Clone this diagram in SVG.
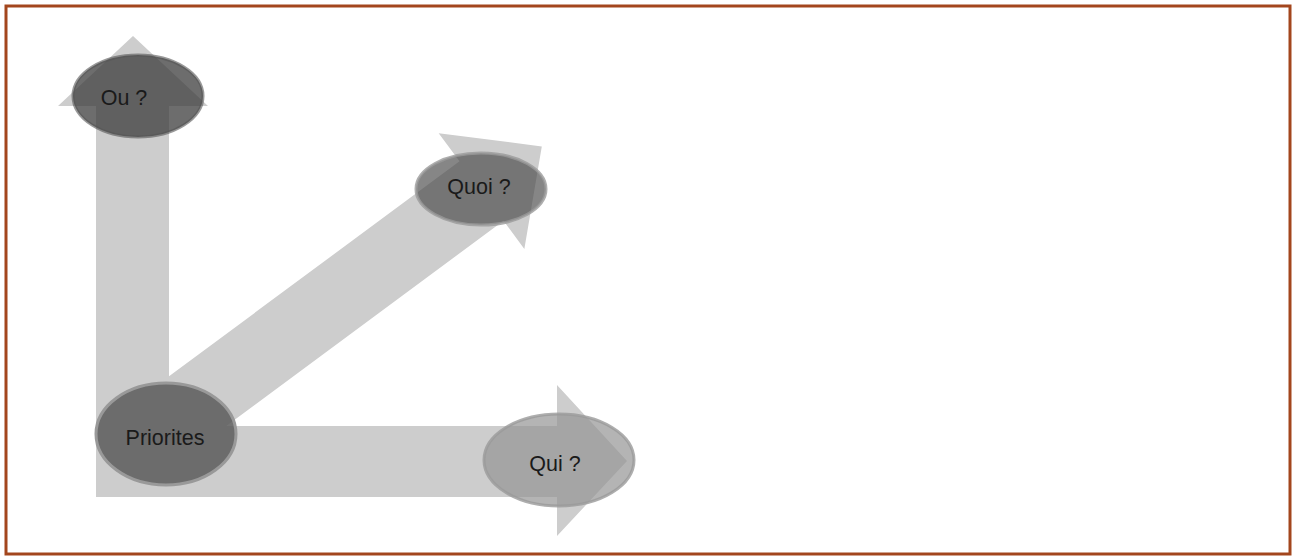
<svg xmlns="http://www.w3.org/2000/svg" width="1292" height="556" viewBox="0 0 1292 556">
  <style>
    .arrow { fill: #cdcdcd; }
    .lbl { font-family: "Liberation Sans", Arial, sans-serif; font-size: 21.5px; fill: #1a1a1a; text-anchor: middle; }
  </style>
  <rect x="0" y="0" width="1292" height="556" fill="#ffffff"/>
  <rect x="6" y="6" width="1284" height="548" fill="none" stroke="#a3461d" stroke-width="3"/>
  <g id="connectors">
    <polygon class="arrow" points="96,496 96,106 58,106 133,36 208,106 169,106 169,496"/>
    <polygon class="arrow" points="96,426 557,426 557,385 627,461 557,536 557,497 96,497"/>
    <g transform="translate(166,424.5) rotate(-36.5)">
      <polygon class="arrow" points="0,-37 392.5,-37 392.5,-72 467.5,0 392.5,72 392.5,37 0,37"/>
    </g>
  </g>
  <g id="node-ou">
    <ellipse cx="138" cy="96" rx="65" ry="41" fill="#3a3a3a" fill-opacity="0.74" stroke="#555555" stroke-opacity="0.6" stroke-width="3"/>
    <text class="lbl" x="124" y="105">Ou ?</text>
  </g>
  <g id="node-quoi">
    <ellipse cx="481" cy="189" rx="65" ry="36" fill="#474747" fill-opacity="0.66" stroke="#9a9a9a" stroke-opacity="0.8" stroke-width="3"/>
    <text class="lbl" x="479" y="194">Quoi ?</text>
  </g>
  <g id="node-priorites">
    <ellipse cx="166" cy="434" rx="70" ry="51" fill="#5a5a5a" fill-opacity="0.85" stroke="#999999" stroke-width="3"/>
    <text class="lbl" x="165" y="445">Priorites</text>
  </g>
  <g id="node-qui">
    <ellipse cx="559" cy="460" rx="75" ry="46" fill="#949494" fill-opacity="0.7" stroke="#9a9a9a" stroke-opacity="0.8" stroke-width="3"/>
    <text class="lbl" x="555" y="471">Qui ?</text>
  </g>
</svg>
